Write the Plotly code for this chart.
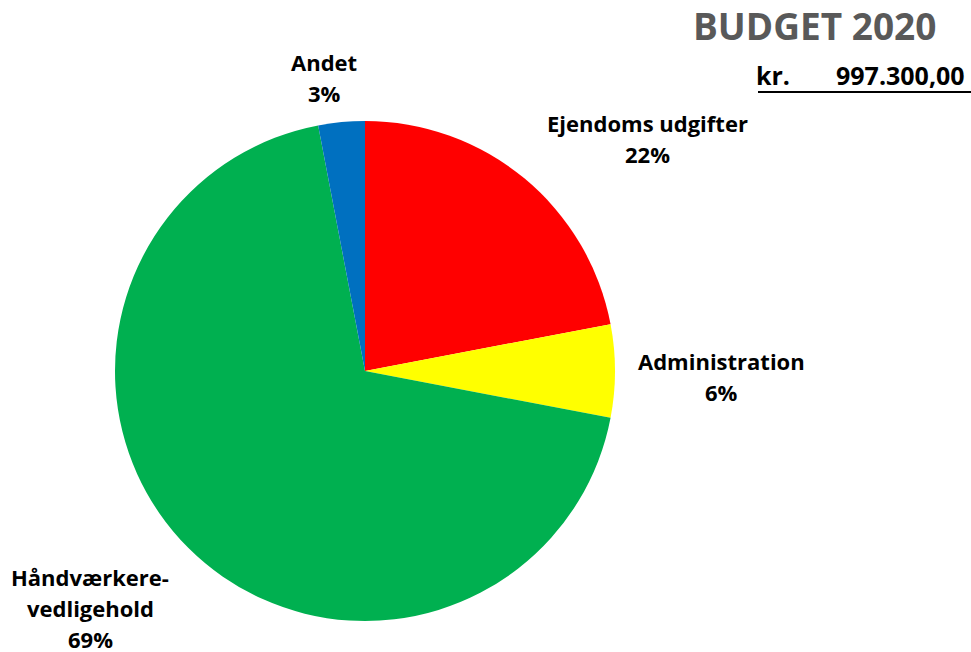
import plotly.graph_objects as go

labels = ["Ejendoms udgifter", "Administration", "Håndværkere-vedligehold", "Andet"]
label_lines = [["Ejendoms udgifter"], ["Administration"], ["Håndværkere-", "vedligehold"], ["Andet"]]
values = [22, 6, 69, 3]
colors = ["#FF0000", "#FFFF00", "#00B050", "#0070C0"]
title_text = "BUDGET 2020"
amount_label = "kr."
amount_text = "997.300,00"

W, H = 971, 652
cx, cy, r = 365, 371, 250
FONT = "Open Sans"

fig = go.Figure(go.Pie(
    labels=labels,
    values=values,
    marker=dict(colors=colors, line=dict(width=0)),
    sort=False,
    direction="clockwise",
    rotation=0,
    textinfo="none",
    hoverinfo="label+percent",
    showlegend=False,
    domain=dict(x=[(cx - r) / W, (cx + r) / W], y=[(H - cy - r) / H, (H - cy + r) / H]),
))

total = sum(values)
# (x centre, y of first line) in pixels
label_pos = [(647, 123), (721, 361), (90, 577), (324, 62)]
annotations = []
for lines, v, (px, py) in zip(label_lines, values, label_pos):
    all_lines = lines + [f"{v / total:.0%}"]
    for i, t in enumerate(all_lines):
        annotations.append(dict(
            x=px / W, y=1 - (py + i * 31.2) / H, xref="paper", yref="paper",
            text=f"<b>{t}</b>", showarrow=False,
            xanchor="center", yanchor="middle", align="center",
            font=dict(family=FONT, size=22, color="#000000"),
        ))

annotations.append(dict(
    x=814 / W, y=1 - 26 / H, xref="paper", yref="paper",
    text=f"<b>{title_text}</b>", showarrow=False, xanchor="center", yanchor="middle",
    font=dict(family=FONT, size=37, color="#595959"),
))
annotations.append(dict(
    x=773 / W, y=1 - 75 / H, xref="paper", yref="paper",
    text=f"<b>{amount_label}</b>", showarrow=False, xanchor="center", yanchor="middle",
    font=dict(family=FONT, size=25, color="#000000"),
))
annotations.append(dict(
    x=967 / W, y=1 - 75 / H, xref="paper", yref="paper",
    text=f"<b>{amount_text}</b>", showarrow=False, xanchor="right", yanchor="middle",
    font=dict(family=FONT, size=25, color="#000000"),
))

fig.update_layout(
    width=W, height=H,
    margin=dict(l=0, r=0, t=0, b=0),
    paper_bgcolor="white", plot_bgcolor="white",
    annotations=annotations,
    shapes=[dict(type="line", xref="paper", yref="paper",
                 x0=758 / W, x1=971 / W, y0=1 - 92 / H, y1=1 - 92 / H,
                 line=dict(color="#000000", width=2))],
)

fig.write_html("out.html", config={"displayModeBar": False},
               post_script="document.body.style.margin='0';document.body.style.overflow='hidden';")
